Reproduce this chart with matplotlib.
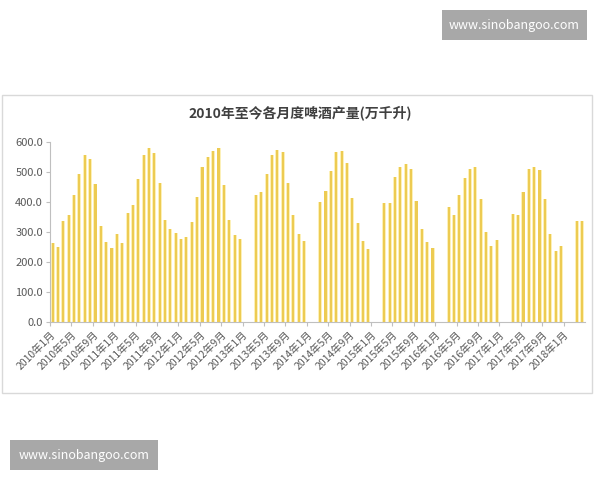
import numpy as np
import matplotlib
matplotlib.use('Agg')
import matplotlib.pyplot as plt
from matplotlib.patches import Rectangle

plt.rcParams['font.family'] = ['Noto Sans CJK SC', 'DejaVu Sans']

# Monthly beer output, Jan 2010 - Apr 2018 (None = no monthly figure, Jan/Feb combined)
years = list(range(2010, 2019))
v2010 = [262, 249, 337, 357, 423, 495, 557, 543, 459, 321, 268, 246]
v2011 = [293, 262, 362, 390, 477, 557, 581, 562, 462, 340, 309, 296]
v2012 = [277, 284, 332, 418, 516, 549, 570, 579, 457, 340, 290, 277]
v2013 = [None, None, 423, 432, 493, 557, 573, 568, 462, 357, 292, 270]
v2014 = [None, None, 401, 437, 503, 566, 570, 529, 415, 329, 270, 243]
v2015 = [None, None, 396, 398, 484, 516, 526, 510, 403, 309, 268, 248]
v2016 = [None, None, 384, 357, 423, 481, 510, 516, 410, 299, 253, 273]
v2017 = [None, None, 360, 357, 432, 510, 516, 507, 410, 293, 237, 253]
v2018 = [None, None, 338, 338]

values = v2010 + v2011 + v2012 + v2013 + v2014 + v2015 + v2016 + v2017 + v2018
labels = []
for y in years:
    for m in range(1, 13):
        labels.append(f"{y}年{m}月")
labels = labels[:len(values)]

idx = np.arange(len(values))
vals = np.array([np.nan if v is None else v for v in values], dtype=float)

fig = plt.figure(figsize=(6, 4.8), dpi=100)
fig.patch.set_facecolor('white')

# chart panel border
fig.patches.append(Rectangle((2 / 600, 1 - 393 / 480), 590 / 600, 298 / 480,
                             transform=fig.transFigure, fill=False,
                             edgecolor='#d9d9d9', linewidth=1))

ax = fig.add_axes([50 / 600, 1 - 322 / 480, 535 / 600, 180 / 480])
mask = ~np.isnan(vals)
ax.bar(idx[mask], vals[mask], width=0.75, color='#FCF0B8', zorder=2)
ax.bar(idx[mask], vals[mask], width=0.4, color='#EDCB52', zorder=3)

ax.set_xlim(-0.5, len(values) - 0.5)
ax.set_ylim(0, 600)
ax.set_yticks(np.arange(0, 601, 100))
ax.set_yticklabels([f"{t:.1f}" for t in np.arange(0, 601, 100)],
                   fontsize=8, color='#595959')

tick_pos = np.arange(0, len(values), 4) - 0.5
tick_lab = [labels[i] for i in range(0, len(values), 4)]
ax.set_xticks(tick_pos)
ax.set_xticklabels(tick_lab, rotation=45, ha='right', rotation_mode='anchor',
                   fontsize=7.5, color='#595959')
ax.tick_params(axis='both', length=3, color='#bfbfbf', pad=2)

for s in ['top', 'right']:
    ax.spines[s].set_visible(False)
for s in ['left', 'bottom']:
    ax.spines[s].set_color('#bfbfbf')
    ax.spines[s].set_linewidth(0.8)

fig.text(0.5, 1 - 113 / 480, "2010年至今各月度啤酒产量(万千升)",
         ha='center', va='center', fontsize=10, fontweight='bold', color='#404040')

# watermark boxes
for (x0, y0, w, h) in [(442, 10, 145, 30), (10, 440, 148, 30)]:
    fig.patches.append(Rectangle((x0 / 600, 1 - (y0 + h) / 480), w / 600, h / 480,
                                 transform=fig.transFigure, facecolor='#a8a8a8',
                                 edgecolor='none'))
    fig.text((x0 + w / 2) / 600, 1 - (y0 + h / 2) / 480, "www.sinobangoo.com",
             ha='center', va='center', fontsize=9, color='white')

fig.savefig('out.png', dpi=100, facecolor='white')
